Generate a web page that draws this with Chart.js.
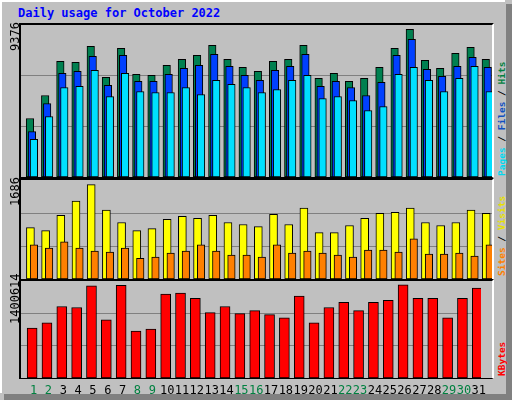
<!DOCTYPE html>
<html><head><meta charset="utf-8">
<script src="https://cdn.jsdelivr.net/npm/chart.js@4/dist/chart.umd.min.js"></script>
<style>
html,body{margin:0;padding:0;}
body{width:512px;height:400px;position:relative;background:#C0C0C0;overflow:hidden;font-family:"DejaVu Sans Mono",monospace;}
#frame{position:absolute;left:0;top:0;width:505px;height:393px;border-left:2px solid #fff;border-top:2px solid #fff;box-sizing:border-box;}
#rshadow{position:absolute;left:506px;top:4px;width:6px;height:396px;background:#808080;}
#bshadow{position:absolute;left:4px;top:394px;width:508px;height:6px;background:#808080;}
.panel{position:absolute;left:19px;width:471px;border-top:2px solid #000;border-left:2px solid #000;border-bottom:1px solid #000;border-right:2px solid #fff;box-sizing:content-box;}
.panel canvas{display:block;}
.rot{position:absolute;transform:rotate(-90deg);transform-origin:left top;white-space:nowrap;font-size:12px;line-height:12px;}
.rr{font-size:9.5px;line-height:10px;font-weight:bold;}
#title{position:absolute;left:18px;top:6px;color:#0000FF;font-weight:bold;font-size:12px;}
</style></head><body>
<div id="frame"></div><div id="rshadow"></div><div id="bshadow"></div>
<div id="title">Daily usage for October 2022</div>
<div class="panel" style="top:23px;height:152px;"><div style="position:relative;width:471px;height:152px"><canvas id="c1"></canvas></div></div>
<div class="panel" style="top:178px;height:99px;"><div style="position:relative;width:471px;height:99px"><canvas id="c2"></canvas></div></div>
<div class="panel" style="top:279px;height:97px;"><div style="position:relative;width:471px;height:119px"><canvas id="c3"></canvas></div></div>
<div class="rot" style="left:9px;top:51px;">9376</div>
<div class="rot" style="left:9px;top:206px;">1686</div>
<div class="rot" style="left:9px;top:324px;">1400614</div>
<div class="rot rr" style="left:497px;top:176px;"><span style="color:#00D8F0">Pages</span> / <span style="color:#1050C0">Files</span> / <span style="color:#008040">Hits</span></div>
<div class="rot rr" style="left:497px;top:276px;"><span style="color:#FF8000">Sites</span> / <span style="color:#E8E000">Visits</span></div>
<div class="rot rr" style="left:497px;top:376px;"><span style="color:#FF0000">KBytes</span></div>
<script>
const days = Array.from({length:31},(_, i)=>i+1);
const dayLabels = days.map(String);
const weekendDays = [1,2,8,9,15,16,22,23,29,30];
const hits = [3712,5175,7339,7275,8293,6321,8166,6511,6448,7084,7466,7720,8357,7466,6957,6702,7339,7466,8357,6257,6575,6066,6257,6957,8166,9376,7402,6893,7848,8229,7466];
const files = [2885,4666,6575,6702,7657,5812,7720,6066,6066,6511,6893,7084,7784,7021,6448,6130,6766,7021,7784,5748,6066,5684,5175,6002,7720,8739,6830,6384,7021,7593,6957];
const pages = [2397,3839,5684,5748,6766,5112,6575,5430,5366,5366,5684,5239,6130,5875,5684,5366,5557,6130,6448,4984,5112,4857,4221,4475,6511,6957,6130,5430,6257,7021,5430];
const visits = [919,864,1138,1394,1686,1230,1010,864,901,1065,1120,1083,1138,1010,974,937,1157,974,1266,828,828,956,1083,1175,1193,1266,1010,956,1010,1230,1175];
const sites = [609,554,663,554,499,481,554,371,390,463,499,609,499,426,426,390,609,463,499,463,426,390,517,517,481,718,444,444,463,408,609];
const kbytes = [751754,829000,1076100,1060700,1385100,875300,1395000,705400,736300,1261500,1277000,1199700,983500,1076100,968000,1014400,952600,906200,1230600,829000,1060700,1137900,1014400,1137900,1168800,1400614,1199700,1199700,906200,1199700,1354200];

const XMIN=0.15, XMAX=31.15;
function pts(arr,off){return arr.map((v,i)=>({x:days[i]+off,y:v}));}
function ds(arr,off,color,w,order){return {data:pts(arr,off),backgroundColor:color,borderColor:'#000',borderWidth:1,barThickness:w,grouped:false,order:order,borderSkipped:false};}
function yScale(max){return {min:0,max:max,display:true,
  afterFit:s=>{s.width=0;},
  afterBuildTicks:s=>{s.ticks=[{value:max/3},{value:2*max/3}];},
  ticks:{display:false},border:{display:false},grid:{color:'#808080',lineWidth:1,drawTicks:false}};}
function xScale(show){
  const base={type:'linear',min:XMIN,max:XMAX,offset:false,display:show};
  if(show){Object.assign(base,{
    afterFit:s=>{s.height=22;},
    afterBuildTicks:s=>{s.ticks=days.map(d=>({value:d}));},
    ticks:{autoSkip:false,maxRotation:0,padding:6,font:{size:12},
      callback:v=>dayLabels[v-1],
      color:c=>(c.tick && weekendDays.includes(c.tick.value))?'#008040':'#000'},
    grid:{display:false,drawTicks:false},border:{display:false}});}
  return base;
}
function mk(id,datasets,max,showX){
  new Chart(document.getElementById(id),{type:'bar',data:{datasets},
    options:{responsive:true,maintainAspectRatio:false,animation:false,
      layout:{padding:0},plugins:{legend:{display:false},tooltip:{enabled:false}},
      scales:{x:xScale(showX),y:yScale(max)}}});
}
Chart.defaults.font.family='"DejaVu Sans Mono", monospace';
mk('c1',[ds(hits,-0.26,'#008050',7.5,2),ds(files,-0.13,'#0040FF',7.5,1),ds(pages,0,'#00E0FF',7.5,0)],9649,false);
mk('c2',[ds(visits,-0.23,'#FFFF00',8,1),ds(sites,0,'#FF8000',7.5,0)],1770,false);
mk('c3',[ds(kbytes,-0.1,'#FF0000',10,0)],1459300,true);
</script>
</body></html>
